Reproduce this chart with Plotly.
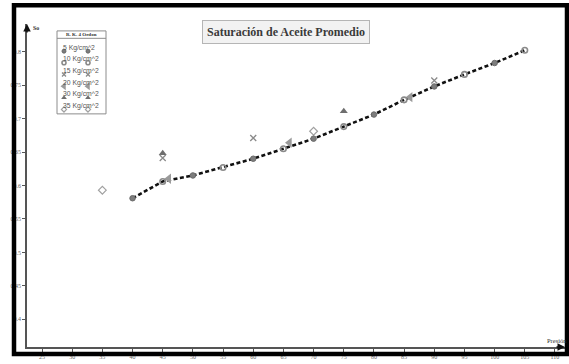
import plotly.graph_objects as go

# Pressure (Kg/cm^2) and average oil saturation along the trend line
pressure = [40, 45, 50, 55, 60, 65, 70, 75, 80, 85, 90, 95, 100, 105]
so_avg = [0.581, 0.606, 0.615, 0.627, 0.640, 0.655, 0.670, 0.688, 0.706, 0.728, 0.748, 0.766, 0.783, 0.802]

# Individual measurements per series
p_5 = [40, 50, 60, 70, 80, 90, 100]
so_5 = [0.581, 0.615, 0.640, 0.670, 0.706, 0.748, 0.783]
p_10 = [45, 55, 65, 75, 85, 95, 105]
so_10 = [0.606, 0.627, 0.655, 0.688, 0.728, 0.766, 0.802]
p_15 = [45, 60, 90]
so_15 = [0.641, 0.671, 0.757]
p_20 = [46, 66, 86]
so_20 = [0.610, 0.664, 0.732]
p_30 = [45, 75]
so_30 = [0.648, 0.711]
p_35 = [35, 70]
so_35 = [0.593, 0.681]

series_names = ["5 Kg/cm^2", "10 Kg/cm^2", "15 Kg/cm^2", "20 Kg/cm^2", "30 Kg/cm^2", "35 Kg/cm^2"]

x_ticks = list(range(25, 111, 5))
y_ticks = [0.4, 0.45, 0.5, 0.55, 0.6, 0.65, 0.7, 0.75, 0.8]
y_tick_text = ["0.4", "0.45", "0.5", "0.55", "0.6", "0.65", "0.7", "0.75", "0.8"]

GREY = "#7d7d7d"
styles = [
    dict(symbol="circle", size=5.5, color=GREY, line=dict(color="#6a6a6a", width=1)),
    dict(symbol="circle-open", size=5.5, color="#8a8a8a", line=dict(width=1.6)),
    dict(symbol="x-thin-open", size=6, color="#8a8a8a", line=dict(width=1.3)),
    dict(symbol="triangle-left", size=9, color="#9a9a9a", line=dict(width=0)),
    dict(symbol="triangle-up", size=7, color="#6e6e6e", line=dict(width=0)),
    dict(symbol="diamond-open", size=6, color="#a0a0a0", line=dict(width=1.2)),
]
series_x = [p_5, p_10, p_15, p_20, p_30, p_35]
series_y = [so_5, so_10, so_15, so_20, so_30, so_35]

fig = go.Figure()

fig.add_trace(go.Scatter(
    x=pressure, y=so_avg, mode="lines",
    line=dict(color="#111111", width=2.6, dash="4px,2.5px"),
    showlegend=False, hoverinfo="skip",
))

# open circles sit on top of the line, so draw them after it
order = [5, 4, 2, 3, 0, 1]
for i in order:
    fig.add_trace(go.Scatter(
        x=series_x[i], y=series_y[i], mode="markers",
        marker=styles[i], name=series_names[i], showlegend=False,
    ))

# ---- custom legend drawn in pixel space on an overlay axis ----
L_X0, L_X1, L_Y0, L_Y1 = 57, 106, 31, 115
row_y0, row_step = 48, 11.8
for i, name in enumerate(series_names):
    ry = row_y0 + i * row_step
    st = dict(styles[i])
    st["size"] = max(4, st["size"] - 2)
    fig.add_trace(go.Scatter(
        x=[64, 88], y=[ry + 3.5, ry + 3.5], xaxis="x2", yaxis="y2",
        mode="markers", marker=st, showlegend=False, hoverinfo="skip",
    ))

fig.update_layout(
    width=569, height=364,
    margin=dict(l=27, r=4, t=24, b=13),
    paper_bgcolor="white", plot_bgcolor="white",
    xaxis=dict(
        range=[22.51, 111.66], tickvals=x_ticks, ticks="outside", ticklen=3,
        tickcolor="#555", showline=True, linecolor="#555", linewidth=1.5,
        showgrid=False, zeroline=False,
        tickfont=dict(family="Liberation Serif", size=6, color="#666"),
    ),
    yaxis=dict(
        range=[0.3587, 0.8413], tickvals=y_ticks, ticktext=y_tick_text,
        ticks="outside", ticklen=3, tickcolor="#555",
        showline=True, linecolor="#555", linewidth=1.5,
        showgrid=False, zeroline=False,
        tickfont=dict(family="Liberation Serif", size=6, color="#666"),
    ),
    xaxis2=dict(range=[27, 565], overlaying="x", visible=False),
    yaxis2=dict(range=[351, 24], overlaying="y", visible=False),
)

shapes = [
    # outer frame
    dict(type="rect", xref="paper", yref="paper",
         x0=(14 - 27) / 538, x1=(567 - 27) / 538,
         y0=(351 - 358) / 327, y1=(351 - 5) / 327,
         line=dict(color="black", width=4.5), fillcolor="rgba(0,0,0,0)", layer="above"),
    # legend box and title row
    dict(type="rect", xref="x2", yref="y2", x0=L_X0, x1=L_X1, y0=L_Y0, y1=L_Y1,
         line=dict(color="#8c8c8c", width=1), fillcolor="white", layer="below"),
    dict(type="line", xref="x2", yref="y2", x0=L_X0, x1=L_X1, y0=38.5, y1=38.5,
         line=dict(color="#8c8c8c", width=1)),
]
fig.update_layout(shapes=shapes)

annotations = [
    dict(text="<b>Saturación de Aceite Promedio</b>", xref="paper", yref="paper",
         x=(286 - 27) / 538, y=(351 - 20) / 327, showarrow=False,
         font=dict(family="Liberation Serif", size=12, color="#3a3a3a"),
         bgcolor="#f2f2f2", bordercolor="#b5b5b5", borderwidth=1, borderpad=4),
    dict(text="<b>So</b>", xref="x2", yref="y2", x=31, y=28, xanchor="left",
         showarrow=False, font=dict(family="Liberation Serif", size=6, color="#333")),
    dict(text="Presión", xref="x2", yref="y2", x=545, y=344, xanchor="left",
         showarrow=False, font=dict(family="Liberation Serif", size=6.5, color="#333")),
    dict(text="<b>R. K. 4 Ordon</b>", xref="x2", yref="y2", x=(L_X0 + L_X1) / 2, y=34.8,
         showarrow=False, font=dict(family="Liberation Serif", size=5, color="#333")),
    # axis arrow heads
    dict(text="", xref="paper", yref="paper", x=0, y=1, ax=0, ay=10,
         showarrow=True, arrowhead=2, arrowsize=1, arrowwidth=1.5, arrowcolor="#111"),
    dict(text="", xref="paper", yref="paper", x=1, y=0, ax=-10, ay=0,
         showarrow=True, arrowhead=2, arrowsize=1, arrowwidth=1.5, arrowcolor="#111"),
]
for i, name in enumerate(series_names):
    annotations.append(dict(
        text=name, xref="x2", yref="y2", x=61, y=row_y0 + i * row_step,
        xanchor="left", showarrow=False,
        font=dict(family="Liberation Sans", size=6.8, color="#555"),
    ))
fig.update_layout(annotations=annotations)

fig.write_html("out.html")
